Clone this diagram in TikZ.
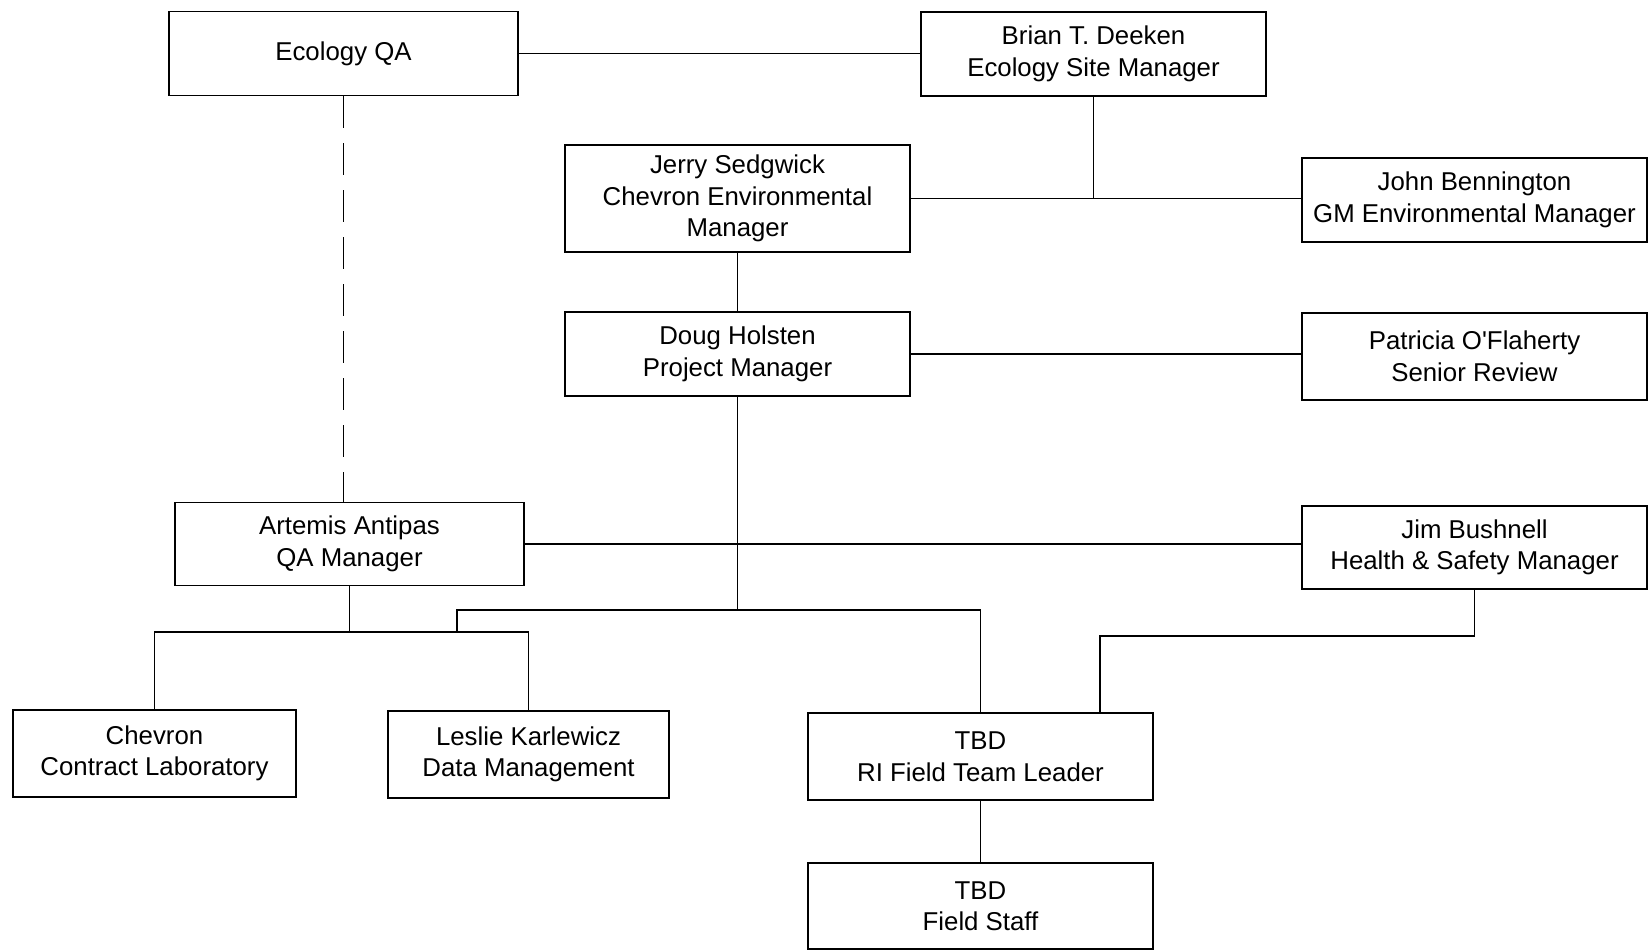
\documentclass[tikz,border=0pt]{standalone}
\usepackage{fontspec}
\setmainfont{Liberation Sans}[Ligatures=TeXOff]
\begin{document}
\begin{tikzpicture}[x=1pt,y=-1pt,
  box/.style={draw=black,line width=1.6pt,rectangle,inner sep=0pt,align=center,
    font=\fontsize{25.8}{31.5}\selectfont},
  conn/.style={draw=black,line width=1.6pt},
  dconn/.style={conn,dash pattern=on 32pt off 15pt}]
\useasboundingbox (0,0) rectangle (1649,951);
% boxes: center (x,y), width, height
\node[box,minimum width=349pt,minimum height=84pt] (eqa) at (343.5,53.5) {Ecology QA};
\node[box,minimum width=345pt,minimum height=84pt] (deek) at (1093.5,54) {Brian T. Deeken\\Ecology Site Manager};
\node[box,minimum width=345pt,minimum height=107pt] (sedg) at (737.5,198.5) {Jerry Sedgwick\\Chevron Environmental\\Manager};
\node[box,minimum width=345pt,minimum height=84pt] (benn) at (1474.5,200) {John Bennington\\GM Environmental Manager};
\node[box,minimum width=345pt,minimum height=84pt] (hols) at (737.5,354) {Doug Holsten\\Project Manager};
\node[box,minimum width=345pt,minimum height=87pt] (ofla) at (1474.5,356.5) {Patricia O'Flaherty\\Senior Review};
\node[box,minimum width=349pt,minimum height=83pt] (anti) at (349.5,544) {Artemis Antipas\\QA Manager};
\node[box,minimum width=345pt,minimum height=83pt] (jim) at (1474.5,547.5) {Jim Bushnell\\Health \& Safety Manager};
\node[box,minimum width=283pt,minimum height=87pt] (chev) at (154.5,753.5) {Chevron\\Contract Laboratory};
\node[box,minimum width=281pt,minimum height=87pt] (lesl) at (528.5,754.5) {Leslie Karlewicz\\Data Management};
\node[box,minimum width=345pt,minimum height=87pt] (tbd) at (980.5,756.5) {TBD\\RI Field Team Leader};
\node[box,minimum width=345pt,minimum height=86pt] (staff) at (980.5,906) {TBD\\Field Staff};
% junction coordinates
\coordinate (pmj) at (737.5,610);
\coordinate (pmleft) at (457,610);
\coordinate (qaj) at (349.5,632);
\coordinate (jimj) at (1100,636);
% connectors
\draw[conn] (eqa.east) -- (eqa.east -| deek.west);
\draw[conn] (sedg.east) -- (sedg.east -| benn.west);
\draw[conn] (deek.south) -- (deek.south |- sedg.east);
\draw[conn] (sedg.south) -- (hols.north);
\draw[conn] (hols.east) -- (hols.east -| ofla.west);
\draw[dconn] (eqa.south) -- (eqa.south |- anti.north);
\draw[conn] (anti.east) -- (anti.east -| jim.west);
\draw[conn] (hols.south) -- (pmj);
\draw[conn] (pmleft |- qaj) -- (pmleft) -- (pmleft -| tbd.north) -- (tbd.north);
\draw[conn] (anti.south) -- (qaj);
\draw[conn] (chev.north) -- (chev.north |- qaj) -- (lesl.north |- qaj) -- (lesl.north);
\draw[conn] (jim.south) -- (jim.south |- jimj) -- (jimj) -- (jimj |- tbd.north);
\draw[conn] (tbd.south) -- (staff.north);
\end{tikzpicture}
\end{document}
